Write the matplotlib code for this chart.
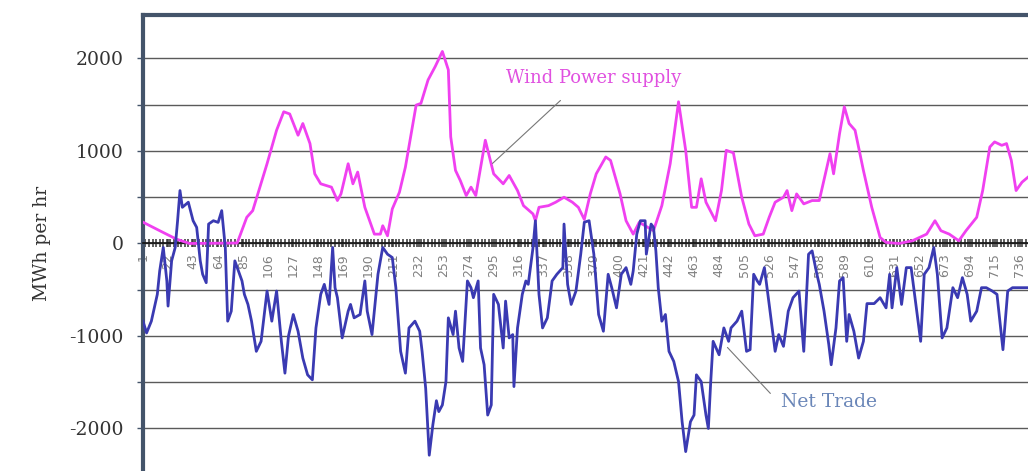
import matplotlib
matplotlib.use("Agg")
import matplotlib.pyplot as plt
from matplotlib.ticker import MultipleLocator, FuncFormatter, FixedLocator

# ---- data (hour index, MWh per hr) ----
wind_hours = [1, 15, 29, 40, 80, 88, 93, 105, 113, 119, 124, 131, 135, 141, 145, 150, 159, 164, 167,
              173, 177, 181, 187, 195, 200, 202, 206, 210, 216, 221, 230, 234, 240, 246, 252, 257,
              259, 263, 267, 272, 276, 280, 288, 295, 303, 308, 315, 320, 328, 330, 333, 341, 347,
              354, 361, 366, 371, 376, 381, 389, 393, 401, 406, 412, 417, 422, 429, 436, 443, 450,
              456, 461, 465, 469, 473, 481, 486, 490, 496, 503, 509, 514, 521, 526, 531, 538, 541,
              545, 549, 555, 562, 568, 577, 580, 585, 589, 593, 598, 605, 612, 619, 624, 635, 646,
              658, 665, 670, 677, 685, 691, 700, 705, 711, 715, 721, 725, 729, 733, 738, 743]
wind_values = [230, 138, 47, 0, 5, 283, 355, 862, 1224, 1424, 1400, 1170, 1297, 1080, 753, 645, 609,
               464, 536, 862, 645, 772, 391, 101, 101, 192, 83, 373, 554, 826, 1496, 1514, 1768,
               1913, 2076, 1877, 1152, 790, 681, 518, 609, 518, 1116, 753, 645, 735, 572, 409, 319,
               246, 391, 409, 446, 500, 446, 391, 260, 536, 753, 935, 898, 536, 246, 101, 228, 192,
               138, 409, 862, 1532, 1007, 391, 391, 699, 446, 246, 572, 1007, 980, 500, 210, 83, 101,
               283, 446, 500, 572, 355, 536, 428, 464, 464, 971, 753, 1188, 1478, 1297, 1224, 790,
               391, 65, 11, 0, 29, 101, 246, 138, 101, 29, 138, 283, 572, 1043, 1098, 1061, 1080,
               898, 572, 663, 717]

trade_hours = [1, 4, 8, 13, 15, 18, 21, 22, 25, 28, 30, 32, 34, 39, 43, 46, 49, 51, 54, 56, 60, 64,
               67, 70, 72, 75, 78, 80, 84, 86, 89, 92, 96, 100, 105, 109, 113, 117, 120, 123, 127,
               131, 135, 139, 143, 146, 150, 153, 157, 160, 162, 164, 168, 173, 175, 178, 183, 187,
               189, 193, 198, 202, 206, 210, 213, 217, 221, 224, 229, 233, 235, 238, 241, 244, 247,
               249, 252, 255, 257, 261, 263, 266, 269, 273, 276, 278, 282, 284, 287, 290, 293, 295,
               299, 303, 305, 308, 311, 312, 315, 319, 322, 324, 328, 330, 333, 336, 340, 344, 348,
               353, 354, 357, 360, 364, 368, 371, 375, 379, 383, 387, 391, 394, 398, 402, 406, 410,
               412, 415, 418, 422, 423, 427, 429, 431, 433, 436, 439, 442, 446, 450, 453, 456, 460,
               463, 465, 469, 473, 475, 477, 479, 484, 488, 492, 494, 499, 503, 507, 510, 513, 516,
               518, 522, 526, 531, 534, 538, 542, 546, 551, 555, 559, 562, 566, 568, 572, 576, 578,
               582, 585, 588, 591, 593, 597, 601, 605, 608, 614, 619, 624, 627, 629, 633, 637, 641,
               645, 649, 653, 656, 660, 664, 667, 671, 675, 680, 684, 688, 692, 695, 700, 704, 708,
               713, 717, 722, 726, 730, 743]
trade_values = [-840, -967, -840, -550, -297, -43, -405, -677, -188, -43, 246, 572, 391, 446, 246,
                174, -188, -333, -424, 210, 246, 228, 355, -43, -840, -732, -188, -261, -405, -550,
                -659, -840, -1166, -1058, -514, -840, -514, -1058, -1402, -1000, -768, -949, -1239,
                -1420, -1474, -913, -550, -442, -659, -43, -478, -586, -1021, -732, -659, -804,
                -768, -405, -732, -985, -333, -43, -116, -152, -478, -1166, -1402, -913, -840, -949,
                -1166, -1565, -2289, -1962, -1700, -1818, -1746, -1493, -804, -985, -732, -1130,
                -1275, -405, -478, -586, -405, -1130, -1311, -1855, -1746, -550, -659, -1130, -623,
                -1021, -985, -1547, -913, -550, -405, -442, -43, 246, -550, -913, -804, -405, -333,
                -261, 210, -442, -659, -514, -116, 230, 246, -116, -768, -949, -333, -478, -696,
                -333, -261, -442, -297, 101, 246, 246, -116, 210, 174, -80, -478, -840, -768, -1166,
                -1275, -1493, -1927, -2250, -1927, -1855, -1420, -1493, -1855, -2000, -1493, -1058,
                -1203, -913, -1058, -913, -840, -732, -1166, -1148, -333, -405, -442, -261, -659,
                -1166, -985, -1112, -732, -586, -514, -1166, -116, -80, -333, -442, -732, -1094,
                -1311, -913, -405, -369, -1058, -768, -949, -1239, -1058, -650, -650, -586, -696,
                -333, -696, -261, -659, -261, -261, -659, -1058, -333, -261, -43, -333, -1021, -913,
                -478, -586, -369, -550, -840, -732, -478, -478, -514, -550, -1148, -514, -478, -478]

x_tick_values = list(range(1, 744, 21))
y_label_values = [-2000, -1000, 0, 1000, 2000]

WIND_COLOR = "#F040F0"
TRADE_COLOR = "#3A3AB2"
SERIF = "DejaVu Serif"

W, H = 1028, 471
fig = plt.figure(figsize=(W / 100, H / 100), dpi=100)
ymin, ymax = -2500, 2470
px_per_unit = 0.0925
ax_h_px = (ymax - ymin) * px_per_unit
top_px = 15
left_px = 143
ax = fig.add_axes([left_px / W, (H - top_px - ax_h_px) / H, (W - left_px) / W, ax_h_px / H])
ax.set_xlim(1, 743)
ax.set_ylim(ymin, ymax)
ax.set_axisbelow(True)

# gridlines
ax.yaxis.set_major_locator(MultipleLocator(500))
ax.yaxis.set_major_formatter(FuncFormatter(lambda v, p: f"{int(v)}" if int(v) in y_label_values else ""))
ax.grid(axis="y", color="#5a5a5a", linewidth=1.0)
ax.tick_params(axis="y", direction="out", length=4, color="#44546A", width=1,
               labelsize=13.5, pad=10, labelcolor="#333333")
for t in ax.get_yticklabels():
    t.set_fontfamily(SERIF)

# x axis along zero line
ax.spines["bottom"].set_position(("data", 0))
ax.spines["bottom"].set_color("#111111")
ax.spines["bottom"].set_linewidth(1.2)
ax.xaxis.set_major_locator(FixedLocator(x_tick_values))
ax.xaxis.set_minor_locator(MultipleLocator(3))
ax.tick_params(axis="x", which="both", direction="inout", length=6, width=1.1, color="#333333")
ax.tick_params(axis="x", which="major", labelsize=9, labelrotation=90, pad=4, labelcolor="#808080")
for t in ax.get_xticklabels():
    t.set_verticalalignment("top")

ax.spines["right"].set_visible(False)
for s in ("left", "top"):
    ax.spines[s].set_color("#44546A")
    ax.spines[s].set_linewidth(3)

ax.plot(wind_hours, wind_values, color=WIND_COLOR, linewidth=2.0, zorder=3)
ax.plot(trade_hours, trade_values, color=TRADE_COLOR, linewidth=2.0, zorder=4)

# annotations
ax.text(379, 1784, "Wind Power supply", color="#E050E0", fontsize=13, family=SERIF,
        ha="center", va="center")
ax.annotate("", xy=(294, 865), xytext=(351, 1546),
            arrowprops=dict(arrowstyle="-", color="#777777", lw=0.8, shrinkA=0, shrinkB=0))
ax.text(576, -1719, "Net Trade", color="#6A86B8", fontsize=13.5, family=SERIF,
        ha="center", va="center")
ax.annotate("", xy=(491, -1124), xytext=(527, -1621),
            arrowprops=dict(arrowstyle="-", color="#777777", lw=0.8, shrinkA=0, shrinkB=0))

ax.set_ylabel("MWh per hr", fontsize=13.5, family=SERIF, color="#333333")
ax.yaxis.set_label_coords(-92 / (W - left_px), (0 - ymin) / (ymax - ymin))

fig.savefig("out.png", dpi=100, facecolor="white")
